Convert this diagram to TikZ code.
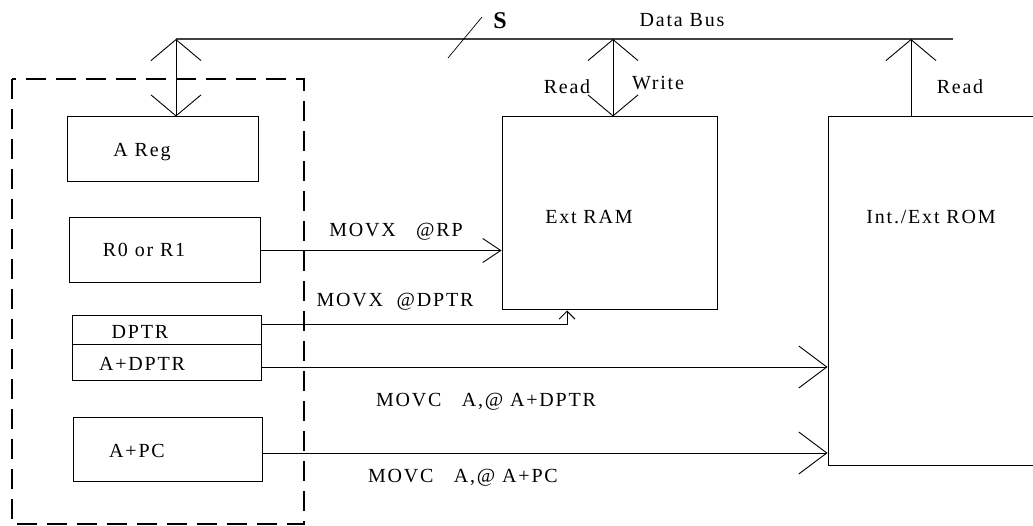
\documentclass[tikz,border=0pt]{standalone}
\usepackage{fontspec}
\setmainfont{Liberation Serif}[LetterSpace=9]
\usetikzlibrary{arrows.meta}
\tikzset{
  lbl/.style={inner sep=0pt, font=\fontsize{20}{22}\selectfont},
  regbox/.style={draw, line width=1pt, inner sep=0pt},
  conn/.style={line width=0.9pt},
  bustip/.tip={Straight Barb[length=21pt, width=50pt, line width=0.9pt]},
  bigtip/.tip={Straight Barb[length=28pt, width=42pt, line width=0.9pt]},
  midtip/.tip={Straight Barb[length=18pt, width=24pt, line width=0.9pt]},
  smalltip/.tip={Straight Barb[length=8pt, width=16pt, line width=0.9pt]},
}
\begin{document}
\begin{tikzpicture}[x=1pt,y=-1pt]
\clip (0,0) rectangle (1033,526);
\fill[white] (0,0) rectangle (1033,526);
% dashed CPU box
\draw[line width=1.4pt, dash pattern=on 20pt off 10pt] (12,79) rectangle (304,524);
% registers
\node[regbox, minimum width=191pt, minimum height=65pt] (areg) at (162.5,149.5) {};
\node[lbl] (aregt) at (142,152) {A Reg};
\node[regbox, minimum width=191pt, minimum height=65pt] (r0) at (164.5,250.5) {};
\node[lbl] (r0t) at (144,250) {R0 or R1};
\node[regbox, minimum width=189pt, minimum height=29pt] (dptr) at (166.5,330.5) {};
\node[lbl] at (140,332) {DPTR};
\node[regbox, minimum width=189pt, minimum height=35pt] (adptr) at (166.5,362.5) {};
\node[lbl] at (142,364) {A+DPTR};
\node[regbox, minimum width=189pt, minimum height=64pt] (apc) at (167.5,449) {};
\node[lbl] (apct) at (137,451) {A+PC};
% memories
\node[regbox, minimum width=215pt, minimum height=193pt] (ram) at (609.5,213.5) {};
\node[lbl] (ramt) at (589,217) {Ext RAM};
\node[regbox, minimum width=222pt, minimum height=348pt] (rom) at (939,291) {};
\node[lbl] (romt) at (931,217) {Int./Ext ROM};
% data bus
\coordinate (busL) at (176,39);
\coordinate (busR) at (953,39);
\coordinate (busA) at (176,39);
\coordinate (busM) at (613,39);
\coordinate (busO) at (911,39);
\draw[line width=1.8pt, black!75] (busL) -- (busR);
\coordinate (sl1) at (448,58);
\coordinate (sl2) at (482,17);
\draw[line width=0.7pt] (sl1) -- (sl2);
\node[lbl, font=\fontsize{24}{26}\selectfont\bfseries] (s) at (500,21) {S};
\node[lbl] (db) at (682,20) {Data Bus};
\draw[conn, bustip-bustip] (busA) -- (busA |- areg.north);
\draw[conn, bustip-bustip] (busM) -- (busM |- ram.north);
\draw[conn, -bustip] (busO |- rom.north) -- (busO);
\node[lbl] (rd1) at (567,87) {Read};
\node[lbl] (wr1) at (658,83) {Write};
\node[lbl] (rd2) at (960,87) {Read};
% connectors
\draw[conn, -midtip] (r0.east) -- (ram.west |- r0.east);
\node[lbl] at (396,232) {MOVX\ \ \ @RP};
\coordinate (dp) at (567,324);
\draw[conn, -smalltip] (dptr.east |- dp) -- (dp) -- (dp |- ram.south);
\node[lbl] at (395,302) {MOVX\ \ @DPTR};
\draw[conn, -bigtip] (adptr.east |- 0,367) -- (rom.west |- 0,367);
\node[lbl] at (486,402) {MOVC\ \ \ A,@ A+DPTR};
\draw[conn, -bigtip] (apc.east |- 0,453) -- (rom.west |- 0,453);
\node[lbl] at (463,478) {MOVC\ \ \ A,@ A+PC};
\end{tikzpicture}
\end{document}
